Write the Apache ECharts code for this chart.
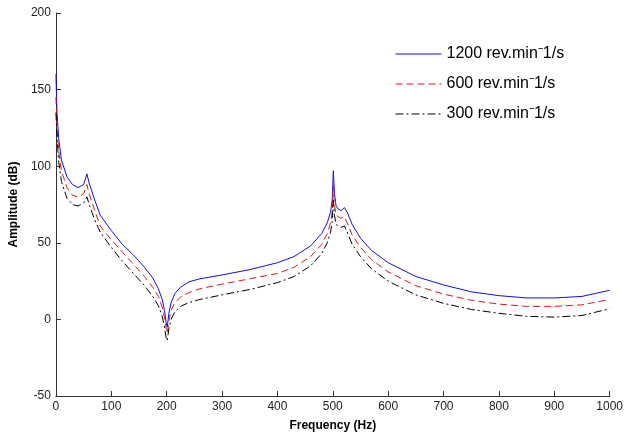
<!DOCTYPE html>
<html>
<head>
<meta charset="utf-8">
<script src="https://cdn.jsdelivr.net/npm/echarts@6/dist/echarts.min.js"></script>
<style>
  html, body { margin: 0; padding: 0; background: #fff; }
  #chart { width: 626px; height: 437px; }
</style>
</head>
<body>
<div id="chart"></div>
<script>
// frequency samples (Hz), shared by all three curves
var freq = [0, 2, 5, 10, 20, 30, 40, 50, 56, 60, 70, 80, 100, 120, 140, 160, 175, 185, 192, 196,
  199, 201, 204, 208, 215, 225, 240, 260, 300, 350, 400, 430, 460, 480, 490, 496, 499, 501, 503, 506,
  510, 515, 521, 526, 535, 550, 570, 600, 650, 700, 750, 800, 850, 900, 950, 1000];

var amp1200 = [160, 135, 118, 104, 93, 88, 86, 88, 95, 89, 78, 68, 58, 49, 42, 34, 27, 20, 13, 6,
  -2, -5, 4, 11, 17, 21, 24.5, 26.5, 29, 32.5, 37, 41, 48, 56, 63, 70, 78, 97, 82, 74,
  72, 71, 73, 70, 62, 53, 45, 37, 28, 22.5, 18, 15.5, 14, 14, 15, 19];

var amp600 = [145, 125, 110, 97, 86, 81, 80, 82, 88, 82, 71, 61, 52, 44, 36, 28, 21, 15, 8, 1,
  -6, -9, -1, 6, 11, 14.5, 17.5, 20, 23, 26.5, 30, 34, 41, 49, 56, 63, 70, 88, 75, 68,
  67, 66, 67, 63, 55, 47, 39, 31, 22, 16.5, 12.5, 10, 8.5, 8.5, 9.5, 13];

var amp300 = [135, 118, 103, 90, 79, 75, 74, 76, 80, 75, 65, 57, 47, 38, 30, 22, 15, 9, 2, -5,
  -12, -14, -6, 0, 5, 8.5, 11, 13, 16, 19.5, 24, 28, 35, 43, 50, 57, 64, 78, 68, 62,
  61, 60, 61, 57, 49, 41, 33, 25, 16, 10.5, 6.5, 4, 2, 1.5, 2.5, 7];

var seriesNames = ['1200 rev.min\u207B1/s', '600 rev.min\u207B1/s', '300 rev.min\u207B1/s'];

function pairs(ys) {
  return freq.map(function (f, i) { return [f, ys[i]]; });
}

var chart = echarts.init(document.getElementById('chart'));
chart.setOption({
  animation: false,
  backgroundColor: '#fff',
  grid: { left: 55, right: 13, top: 13, bottom: 40 },
  legend: {
    orient: 'vertical',
    left: 390,
    top: 41,
    itemWidth: 46,
    itemHeight: 10,
    itemGap: 14,
    itemStyle: { opacity: 0 },
    lineStyle: { width: 1 },
    textStyle: { fontFamily: 'Liberation Sans', fontSize: 16, color: '#000' },
    data: seriesNames
  },
  xAxis: {
    type: 'value',
    min: 0, max: 1000, interval: 100,
    name: 'Frequency (Hz)',
    nameLocation: 'middle',
    nameGap: 24,
    nameTextStyle: { fontFamily: 'Liberation Sans', fontWeight: 'bold', fontSize: 12, color: '#000' },
    axisLine: { onZero: false, lineStyle: { color: '#333', width: 1 } },
    axisTick: { inside: true, length: 5, lineStyle: { color: '#333' } },
    axisLabel: { fontFamily: 'Liberation Sans', fontSize: 12, color: '#222', margin: 5,
      formatter: function (v) { return String(v); } },
    splitLine: { show: false }
  },
  yAxis: {
    type: 'value',
    min: -50, max: 200, interval: 50,
    name: 'Amplitude (dB)',
    nameLocation: 'middle',
    nameGap: 30,
    nameTextStyle: { fontFamily: 'Liberation Sans', fontWeight: 'bold', fontSize: 12, color: '#000' },
    axisLine: { show: true, lineStyle: { color: '#333', width: 1 } },
    axisTick: { show: true, inside: true, length: 5, lineStyle: { color: '#333' } },
    axisLabel: { fontFamily: 'Liberation Sans', fontSize: 12, color: '#222', margin: 5 },
    splitLine: { show: false }
  },
  series: [
    {
      name: seriesNames[0], type: 'line', symbol: 'none',
      data: pairs(amp1200),
      lineStyle: { color: '#1010e0', width: 1 },
      itemStyle: { color: '#1010e0' }
    },
    {
      name: seriesNames[1], type: 'line', symbol: 'none',
      data: pairs(amp600),
      lineStyle: { color: '#e01818', width: 1, type: [7, 4] },
      itemStyle: { color: '#e01818' }
    },
    {
      name: seriesNames[2], type: 'line', symbol: 'none',
      data: pairs(amp300),
      lineStyle: { color: '#000', width: 1, type: [8, 3, 2, 3] },
      itemStyle: { color: '#000' }
    }
  ]
});
</script>
</body>
</html>
